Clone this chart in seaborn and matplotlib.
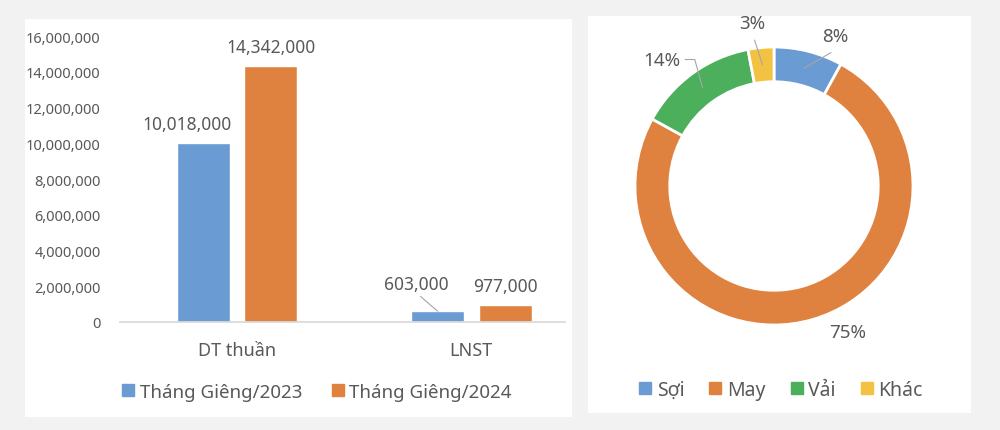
import numpy as np
import pandas as pd
import matplotlib
matplotlib.use("Agg")
import matplotlib.pyplot as plt
from matplotlib.patches import Rectangle
from matplotlib.lines import Line2D
import seaborn as sns

# ─── Data ─────────────────────────────────────────────────────────────────────

categories = ["DT thuần", "LNST"]
periods = ["Tháng Giêng/2023", "Tháng Giêng/2024"]
values_2023 = [10018000, 603000]
values_2024 = [14342000, 977000]

segments = ["Sợi", "May", "Vải", "Khác"]
shares = [8, 75, 14, 3]

# ─── Style ────────────────────────────────────────────────────────────────────

sns.set_theme(style="white")
plt.rcParams["font.family"] = ["Noto Sans", "DejaVu Sans"]

TEXT = "#595959"
BAR_COLORS = ["#6a9bd2", "#e0823f"]
PIE_COLORS = ["#6a9bd2", "#e0823f", "#4caf5c", "#f4c243"]

fig = plt.figure(figsize=(10, 4.31), dpi=100)
fig.patch.set_facecolor("#f2f2f2")

# white panels behind each chart
for x0, y0, x1, y1 in [(25, 20, 572, 418), (588, 17, 971, 414)]:
    fig.patches.append(Rectangle((x0 / 1000, 1 - y1 / 431), (x1 - x0) / 1000,
                                 (y1 - y0) / 431, transform=fig.transFigure,
                                 facecolor="white", edgecolor="none", zorder=-1))

# ─── Left: grouped bars ───────────────────────────────────────────────────────

df = pd.DataFrame({
    "category": categories * 2,
    "period": [periods[0]] * 2 + [periods[1]] * 2,
    "value": values_2023 + values_2024,
})

ax1 = fig.add_axes([0.12, 1 - 323 / 431, 0.445, (323 - 37) / 431])
ax1.set_zorder(2)
ax1.patch.set_alpha(0)
sns.barplot(data=df, x="category", y="value", hue="period", palette=BAR_COLORS,
            width=0.576, gap=0.215, ax=ax1, legend=False, errorbar=None,
            saturation=1)
ax1.set_ylim(0, 16000000)
ax1.set_xlim(-0.5, 1.4)
ax1.set_yticks(np.arange(0, 16000001, 2000000))
ax1.yaxis.set_major_formatter(matplotlib.ticker.FuncFormatter(lambda v, p: f"{int(v):,}"))
ax1.tick_params(axis="y", labelsize=10.5, colors=TEXT, length=0, pad=14)
ax1.tick_params(axis="x", labelsize=13, colors=TEXT, length=0, pad=14)
ax1.set_xlabel("")
ax1.set_ylabel("")
for s in ["left", "right", "top"]:
    ax1.spines[s].set_visible(False)
ax1.spines["bottom"].set_color("#d9d9d9")

# value labels; the first series is nudged left so it clears its neighbour
for i, cont in enumerate(ax1.containers):
    for bar in cont:
        h = bar.get_height()
        dx = -12 if i == 0 else 0
        short = i == 0 and h < 1000000
        dy = 13 if short else 7
        ax1.annotate(f"{int(h):,}", (bar.get_x() + bar.get_width() / 2, h),
                     xytext=(dx - (3 if short else 0), dy), textcoords="offset points",
                     ha="center", va="bottom", fontsize=12.5, color=TEXT,
                     arrowprops=dict(arrowstyle="-", color="#a6a6a6", lw=0.8,
                                     shrinkA=0, shrinkB=0, relpos=(0.5, 0))
                     if short else None)

handles = [Line2D([], [], marker="s", linestyle="none", markersize=8,
                  color=c) for c in BAR_COLORS]
fig.legend(handles, periods, loc="center", bbox_to_anchor=(0.316, 1 - 393 / 431),
           ncol=2, frameon=False, fontsize=13.5, labelcolor=TEXT,
           handletextpad=0.2, columnspacing=1.5, handlelength=0.8)

# ─── Right: donut ─────────────────────────────────────────────────────────────

ax2 = fig.add_axes([(774 - 150) / 1000, 1 - (187 + 150) / 431, 0.3, 300 / 431])
ax2.set_zorder(2)
ax2.patch.set_alpha(0)
wedges, _ = ax2.pie(shares, colors=PIE_COLORS, startangle=90, counterclock=False,
                    radius=1, wedgeprops=dict(width=0.25, edgecolor="white", linewidth=2))
lim = 150 / 139
ax2.set_xlim(-lim, lim)
ax2.set_ylim(-lim, lim)
ax2.set_aspect("equal")
ax2.axis("off")

# label placement: (text x, text y, draw leader)
LABEL_POS = [(0.44, 1.08, True), (0.53, -1.05, False),
             (-0.81, 0.91, True), (-0.16, 1.17, True)]
for w, pct, (tx, ty, lead) in zip(wedges, shares, LABEL_POS):
    ang = np.deg2rad((w.theta1 + w.theta2) / 2)
    px, py = 0.875 * np.cos(ang), 0.875 * np.sin(ang)
    ax2.text(tx, ty, f"{pct}%", ha="center", va="center", fontsize=13.5, color=TEXT)
    if lead:
        if tx < -0.5:
            ax2.plot([tx + 0.17, tx + 0.24, px], [ty, ty, py], color="#a6a6a6", lw=0.8)
        else:
            ax2.plot([tx - 0.03 if tx > 0 else tx + 0.02, px],
                     [ty - 0.12, py], color="#a6a6a6", lw=0.8)

handles = [Line2D([], [], marker="s", linestyle="none", markersize=8,
                  color=c) for c in PIE_COLORS]
fig.legend(handles, segments, loc="center", bbox_to_anchor=(0.780, 1 - 391 / 431),
           ncol=4, frameon=False, fontsize=14, labelcolor=TEXT,
           handletextpad=0.2, columnspacing=1.2, handlelength=0.8)

fig.savefig("out.png", dpi=100, facecolor=fig.get_facecolor())
